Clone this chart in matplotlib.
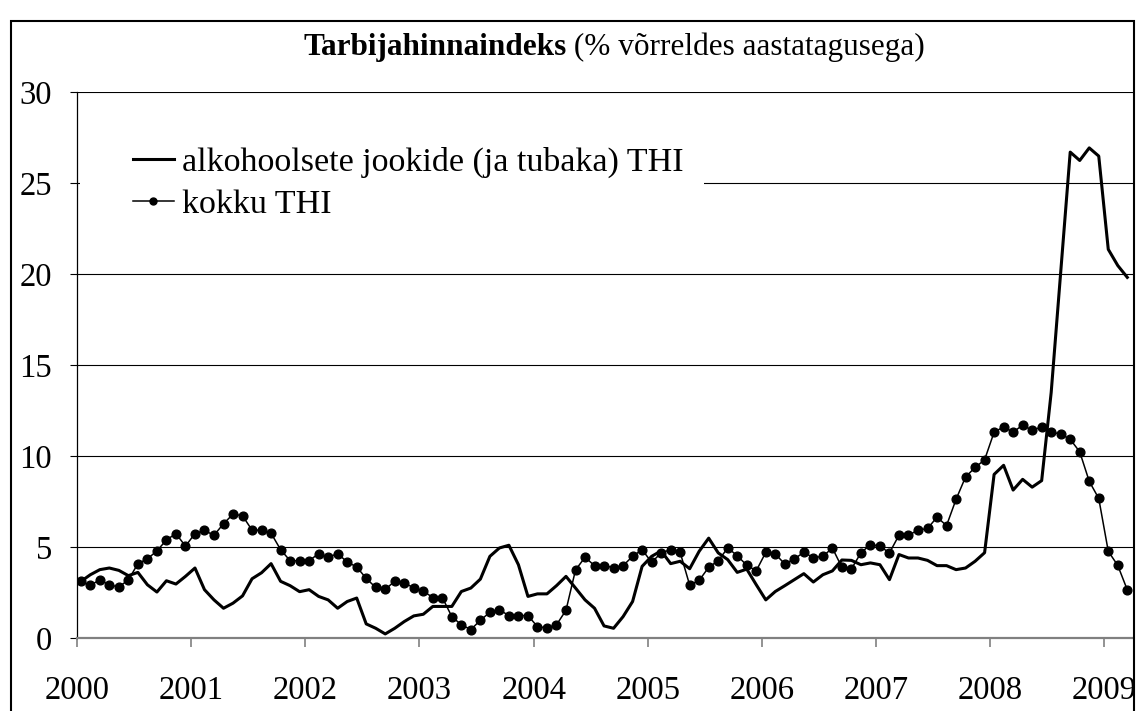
import matplotlib
matplotlib.use("Agg")
import matplotlib.pyplot as plt
import numpy as np
from matplotlib.lines import Line2D
from matplotlib.patches import Rectangle

plt.rcParams['font.family'] = ['Liberation Serif', 'DejaVu Serif']

# monthly values, Jan 2000 .. Mar 2009 (% vs same month a year earlier)
alko = [3.12, 3.49, 3.77, 3.86, 3.73, 3.44, 3.62, 2.94, 2.54, 3.16, 2.98, 3.40,
        3.86, 2.67, 2.11, 1.65, 1.93, 2.33, 3.27, 3.60, 4.10, 3.13, 2.89, 2.56,
        2.67, 2.30, 2.11, 1.65, 2.02, 2.21, 0.79, 0.55, 0.24, 0.55, 0.92, 1.23,
        1.32, 1.75, 1.75, 1.75, 2.57, 2.76, 3.25, 4.50, 4.96, 5.11, 4.04, 2.30,
        2.44, 2.44, 2.89, 3.40, 2.76, 2.11, 1.65, 0.68, 0.55, 1.19, 2.02, 3.95,
        4.50, 4.80, 4.10, 4.23, 3.82, 4.78, 5.50, 4.69, 4.32, 3.62, 3.80, 2.94,
        2.11, 2.57, 2.89, 3.22, 3.55, 3.09, 3.49, 3.70, 4.30, 4.28, 4.04, 4.14,
        4.04, 3.22, 4.60, 4.41, 4.41, 4.28, 3.99, 3.99, 3.77, 3.86, 4.23, 4.70,
        9.00, 9.50, 8.14, 8.73, 8.30, 8.66, 13.5, 20.1, 26.7, 26.24, 26.93, 26.48,
        21.36, 20.47, 19.82]

kokku = [3.12, 2.90, 3.22, 2.92, 2.83, 3.20, 4.10, 4.36, 4.80, 5.40, 5.75, 5.06,
         5.75, 5.92, 5.66, 6.29, 6.82, 6.73, 5.94, 5.94, 5.77, 4.87, 4.26, 4.26,
         4.26, 4.65, 4.45, 4.65, 4.19, 3.92, 3.29, 2.79, 2.68, 3.14, 3.03, 2.78,
         2.59, 2.24, 2.24, 1.19, 0.74, 0.48, 0.99, 1.43, 1.56, 1.25, 1.25, 1.25,
         0.64, 0.57, 0.74, 1.54, 3.75, 4.45, 3.99, 3.99, 3.88, 3.99, 4.50, 4.87,
         4.17, 4.69, 4.87, 4.72, 2.92, 3.18, 3.90, 4.26, 4.96, 4.54, 4.01, 3.71,
         4.72, 4.63, 4.08, 4.36, 4.72, 4.43, 4.50, 4.96, 3.90, 3.81, 4.69, 5.15,
         5.06, 4.69, 5.66, 5.66, 5.94, 6.03, 6.65, 6.19, 7.63, 8.86, 9.38, 9.80,
         11.32, 11.61, 11.32, 11.71, 11.42, 11.61, 11.32, 11.22, 10.93, 10.24, 8.62, 7.68,
         4.78, 4.00, 2.66]

years = ["2000", "2001", "2002", "2003", "2004", "2005", "2006", "2007", "2008", "2009"]
labels = ["alkohoolsete jookide (ja tubaka) THI", "kokku THI"]

W, H = 1139, 711
fig = plt.figure(figsize=(W / 100, H / 100), dpi=100)
ax = fig.add_axes([77 / W, 1 - 638.3 / H, (1133 - 77) / W, (638.3 - 92) / H])

x = np.arange(len(alko)) + 0.4
ax.plot(x, alko, color='black', lw=2.2, zorder=3)
ax.plot(x, kokku, color='black', lw=1.1, marker='o', ms=6.3, zorder=4)

ax.set_xlim(0, len(alko))
ax.set_ylim(0, 30)
ax.set_yticks(range(0, 31, 5))
ax.set_xticks(np.arange(len(years)) * 12)
ax.set_xticklabels(years)

ax.yaxis.grid(True, color='black', lw=0.8)
ax.set_axisbelow(True)
for s in ['top', 'right']:
    ax.spines[s].set_visible(False)
ax.spines['bottom'].set_color('#808080')
ax.spines['bottom'].set_linewidth(1.6)
ax.spines['left'].set_linewidth(0.9)

ax.tick_params(axis='y', direction='out', length=5, width=0.8, pad=13, labelsize=23.5)
ax.tick_params(axis='x', direction='out', length=6.5, width=1.2, color='#808080',
               pad=20, labelsize=23.5)

# white box behind legend (hides the gridline)
ax.add_patch(Rectangle((80 / W, 1 - 232 / H), (704 - 80) / W, 94 / H,
                       transform=fig.transFigure, fc='white', ec='none', zorder=2))

handles = [Line2D([], [], color='black', lw=2.2),
           Line2D([], [], color='black', lw=1.1, marker='o', ms=5)]
ax.legend(handles, labels, loc='upper left', bbox_to_anchor=(133 / W, 1 - 147 / H),
          bbox_transform=fig.transFigure, frameon=False, fontsize=24.5,
          handlelength=1.2, handletextpad=0.25, labelspacing=0.33,
          borderpad=0, borderaxespad=0)

# title: bold part + normal part
t1 = fig.text(303 / W, 1 - 55 / H, "Tarbijahinnaindeks", fontsize=22.5,
              fontweight='bold', ha='left', va='baseline')
ax.annotate(" (% võrreldes aastatagusega)", xy=(1, 0), xycoords=t1,
            ha='left', va='bottom', fontsize=22.5, annotation_clip=False)

# chart border
fig.add_artist(Rectangle((11 / W, -0.05), (1134 - 11) / W, 1.05 - 21 / H,
                         transform=fig.transFigure, fill=False, ec='black', lw=1.5))

fig.savefig("out.png", dpi=100)
